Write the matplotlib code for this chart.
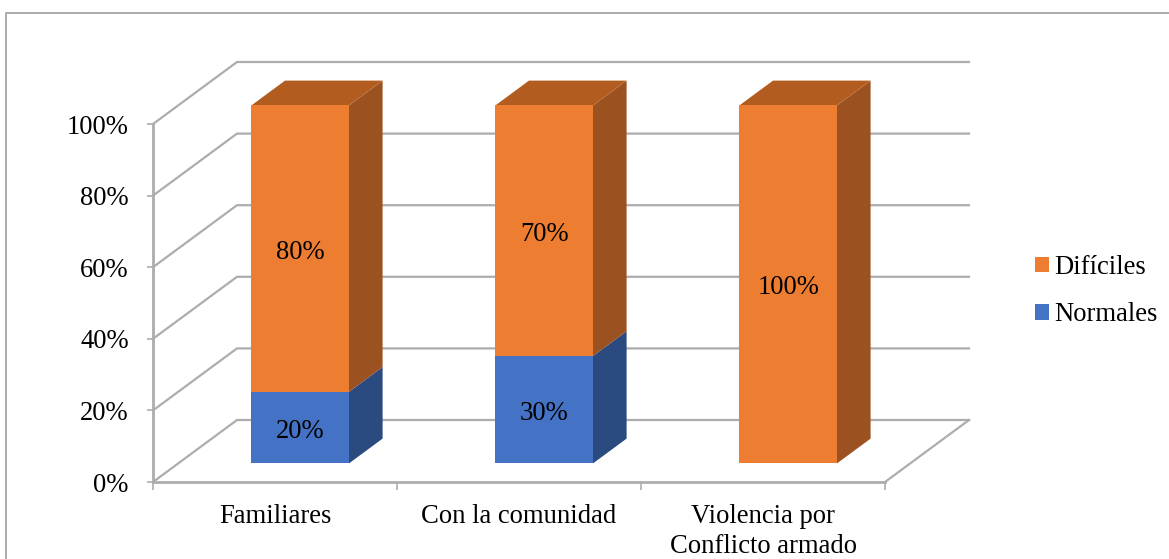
import matplotlib
matplotlib.use("Agg")
import matplotlib.pyplot as plt
from matplotlib.patches import Polygon, Patch, Rectangle

categories = ['Familiares', 'Con la comunidad', 'Violencia por\nConflicto armado']
normales = [20, 30, 0]
dificiles = [80, 70, 100]
y_ticks = [0, 20, 40, 60, 80, 100]

plt.rcParams['font.family'] = 'Liberation Serif'
plt.rcParams['font.size'] = 19.2

W, H = 1169, 559
fig = plt.figure(figsize=(W / 100, H / 100), dpi=100)
ax = fig.add_axes([153 / W, 1 - 482 / H, 732 / W, 358 / H])
ax.set_xlim(0, 3)
ax.set_ylim(0, 100)

GRID = '#adadad'
DEPTH_X = 84 / 244   # floor depth in category units
DEPTH_Y = 62 / 3.58  # floor depth in percent units


def proj(x, y, d):
    # oblique projection, d=0 is the front edge and d=1 the back wall
    return x + d * DEPTH_X, y + d * DEPTH_Y


def wall_lines(val):
    xs = [0, 0, 3]
    ds = [0, 1, 1]
    pts = [proj(x, val, d) for x, d in zip(xs, ds)]
    ax.plot([p[0] for p in pts], [p[1] for p in pts], color=GRID, lw=1.6,
            clip_on=False, zorder=1, solid_joinstyle='miter')


def box(x0, x1, y0, y1, color, side, top, draw_top):
    d0, d1 = 0.30, 0.70
    side_pts = [proj(x1, y0, d0), proj(x1, y0, d1), proj(x1, y1, d1), proj(x1, y1, d0)]
    ax.add_patch(Polygon(side_pts, fc=side, ec='none', clip_on=False, zorder=3))
    if draw_top:
        top_pts = [proj(x0, y1, d0), proj(x1, y1, d0), proj(x1, y1, d1), proj(x0, y1, d1)]
        ax.add_patch(Polygon(top_pts, fc=top, ec='none', clip_on=False, zorder=3))
    front = [proj(x0, y0, d0), proj(x1, y0, d0), proj(x1, y1, d0), proj(x0, y1, d0)]
    ax.add_patch(Polygon(front, fc=color, ec='none', clip_on=False, zorder=4))


for v in y_ticks:
    wall_lines(v)

# floor outline on the right hand side
p0, p1 = proj(3, 0, 0), proj(3, 0, 1)
ax.plot([p0[0], p1[0]], [p0[1], p1[1]], color=GRID, lw=1.6, clip_on=False, zorder=1)

BLUE = ('#4472c4', '#2a4a80', '#2f5597')
ORANGE = ('#ed7d31', '#9c5220', '#b35c20')
bar_w = 0.4
for i in range(3):
    x0 = i + 0.5 - bar_w / 2
    x1 = x0 + bar_w
    if normales[i] > 0:
        box(x0, x1, 0, normales[i], *BLUE, draw_top=False)
    box(x0, x1, normales[i], normales[i] + dificiles[i], *ORANGE, draw_top=True)
    cx = proj(i + 0.5, 0, 0.30)[0]
    for base, val in [(0, normales[i]), (normales[i], dificiles[i])]:
        if val > 0:
            cy = proj(0, base + val / 2, 0.30)[1]
            ax.annotate(f'{val}%', (cx, cy), xytext=(0, -2.5), textcoords='offset points',
                        ha='center', va='center', color='black', zorder=5)

for s in ['top', 'right']:
    ax.spines[s].set_visible(False)
for s in ['left', 'bottom']:
    ax.spines[s].set_color(GRID)
    ax.spines[s].set_linewidth(2.0)

ax.set_yticks(y_ticks)
ax.set_yticklabels([f'{v}%' for v in y_ticks])
ax.set_xticks([0, 1, 2, 3])
ax.set_xticklabels([])
ax.set_xticks([0.5, 1.5, 2.5], minor=True)
ax.set_xticklabels(categories, minor=True, linespacing=1.28)
ax.tick_params(axis='y', color=GRID, length=4, width=1.2, pad=13.5)
ax.tick_params(axis='x', which='major', color=GRID, length=6, width=1.2)
ax.tick_params(axis='x', which='minor', length=0, pad=15.5)
ax.patch.set_alpha(0)

handles = [Patch(fc=ORANGE[0], ec='none', label='Difíciles'),
           Patch(fc=BLUE[0], ec='none', label='Normales')]
fig.legend(handles=handles, loc='upper left', bbox_to_anchor=(1035 / W, 1 - 255 / H),
           frameon=False, handlelength=0.52, handleheight=0.52, handletextpad=0.2,
           labelspacing=0.84, borderpad=0, borderaxespad=0)

# chart frame
fig.add_artist(Rectangle((6 / W, -0.01), 1.01 - 6 / W, 1.01 - 12.5 / H, transform=fig.transFigure,
                         fc='none', ec='#a6a6a6', lw=1.3))

fig.savefig('out.png', dpi=100)
